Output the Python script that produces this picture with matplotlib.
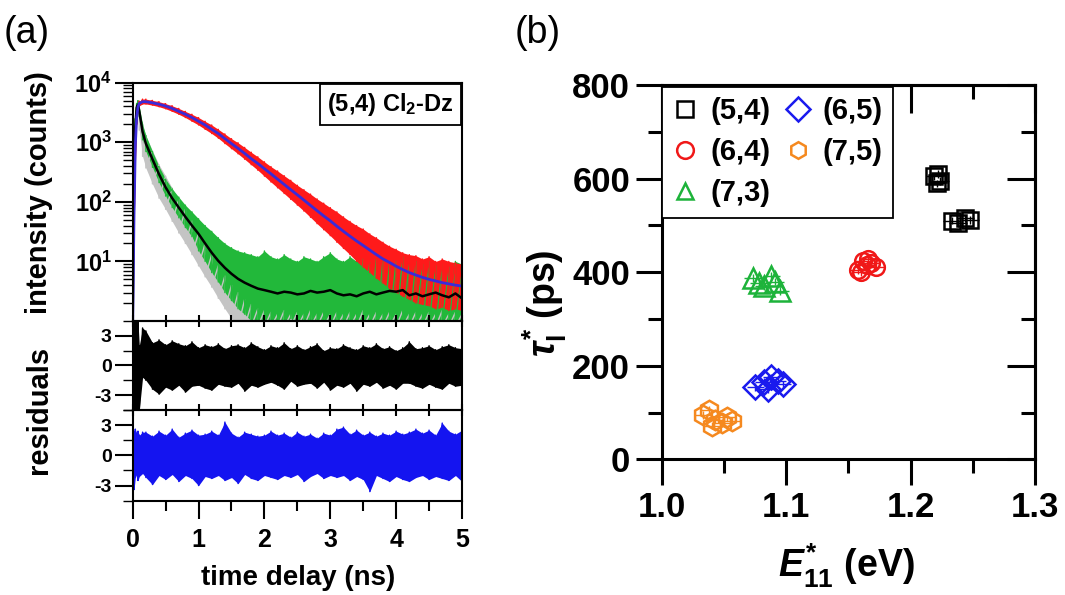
import numpy as np
import matplotlib.pyplot as plt
from matplotlib.ticker import MultipleLocator, FixedLocator, NullFormatter, FormatStrFormatter
from matplotlib.lines import Line2D

plt.rcParams['font.family'] = 'Liberation Sans'
plt.rcParams['font.weight'] = 'bold'
plt.rcParams['mathtext.fontset'] = 'custom'
plt.rcParams['mathtext.rm'] = 'Liberation Sans:bold'
plt.rcParams['mathtext.it'] = 'Liberation Sans:italic:bold'
plt.rcParams['mathtext.bf'] = 'Liberation Sans:bold'

# ---------------- (a) PL decay of (5,4) Cl2-Dz ----------------
# time channels (ns)
t_decay = [0.0, 0.02, 0.04, 0.06, 0.08, 0.10, 0.15] + list(np.round(np.arange(0.2, 5.01, 0.1), 2))

# defect emission (red data, blue fit)
fit_red = [1.0, 60, 900, 2600, 3900, 4500, 4800,
           4800, 4600, 4350, 4050, 3700, 3300, 2950, 2600, 2250, 1950,
           1650, 1400, 1150, 950, 790, 650, 530, 440, 360, 295,
           240, 196, 160, 131, 107, 87, 71, 58, 48, 39,
           32, 26.5, 22, 18.5, 15.5, 13, 11, 9.6, 8.3, 7.3,
           6.5, 5.9, 5.4, 5.0, 4.7, 4.4, 4.2, 4.0, 3.85]
red_hi = [1.5, 150, 1500, 3200, 4300, 4900, 5300,
          5300, 5050, 4800, 4450, 4100, 3700, 3300, 2950, 2600, 2250,
          1950, 1650, 1380, 1150, 980, 820, 680, 570, 470, 390,
          330, 275, 230, 190, 160, 135, 112, 95, 80, 68,
          56, 47, 40, 35, 29, 25, 21, 18, 16, 14,
          13, 12.5, 11, 12, 10, 11, 10, 9.5, 9]
red_lo = [1.0, 30, 500, 2000, 3500, 4100, 4400,
          4400, 4200, 3950, 3650, 3300, 2950, 2600, 2250, 1950, 1650,
          1400, 1170, 950, 780, 640, 520, 420, 340, 270, 215,
          172, 138, 110, 88, 70, 55, 43, 34, 27, 21,
          16.5, 13, 10, 8, 6.5, 5.2, 4.3, 3.5, 3.0, 2.6,
          2.3, 2.0, 1.9, 1.8, 1.6, 1.7, 1.5, 1.6, 1.5]

# E11 emission (green data, black fit)
fit_green = [1.0, 200, 1800, 3800, 4300, 3300, 1500,
             950, 520, 290, 175, 115, 80, 56, 40, 29, 20,
             14, 10.2, 7.8, 6.2, 5.1, 4.4, 3.9, 3.5, 3.3, 3.1,
             2.9, 3.1, 3.0, 2.8, 2.9, 3.2, 3.0, 3.1, 3.3, 2.9,
             2.7, 2.8, 2.6, 2.9, 3.1, 2.8, 3.0, 3.2, 3.1, 3.3,
             2.7, 2.9, 2.6, 2.8, 3.0, 2.7, 2.5, 2.9, 2.4]
green_hi = [2, 400, 2500, 4500, 5000, 4000, 2000,
            1300, 700, 390, 240, 165, 120, 88, 68, 52, 40,
            32, 25, 20, 17, 15, 14, 13, 12, 15, 12,
            11, 13, 11, 10, 12, 11, 10, 12, 14, 11,
            10, 12, 10, 11, 9.5, 11, 10, 9, 10, 12,
            9.5, 10, 9, 10, 8.5, 9, 8, 10, 9]
green_lo = [1, 80, 1200, 3100, 3700, 2700, 1100,
            700, 380, 210, 125, 80, 54, 37, 26, 15, 10,
            6.5, 4.5, 3.0, 2.2, 1.6, 1.3, 1.0, 0.8, 0.9, 0.8,
            0.9, 0.8, 1.1, 0.8, 0.9, 1.0, 0.8, 0.9, 0.8, 1.0,
            0.8, 0.9, 0.8, 1.0, 0.8, 0.9, 0.8, 1.0, 0.8, 0.9,
            0.8, 1.0, 0.8, 0.9, 0.8, 1.0, 0.8, 0.9, 0.8]

# instrument response (gray)
gray_hi = [1.5, 300, 2500, 4200, 4600, 3500, 1900,
           1300, 720, 420, 270, 170, 110, 75, 48, 30, 20,
           13, 8.5, 5.7, 4.0, 3.0, 2.3, 1.9, 1.6, 1.5, 1.4,
           1.3, 1.5, 1.3, 1.4, 1.3, 1.5, 1.3, 1.4, 1.3, 1.4,
           1.3, 1.4, 1.3, 1.5, 1.3, 1.4, 1.3, 1.4, 1.3, 1.5,
           1.3, 1.4, 1.3, 1.4, 1.3, 1.5, 1.3, 1.4, 1.3]
gray_lo = [1, 60, 700, 2500, 3300, 1600, 580,
           370, 200, 115, 75, 47, 30, 20, 13, 8.4, 5.5,
           3.7, 2.4, 1.6, 1.1, 0.8, 0.8, 0.8, 0.8, 0.8, 0.8,
           0.8, 0.8, 0.8, 0.8, 0.8, 0.8, 0.8, 0.8, 0.8, 0.8,
           0.8, 0.8, 0.8, 0.8, 0.8, 0.8, 0.8, 0.8, 0.8, 0.8,
           0.8, 0.8, 0.8, 0.8, 0.8, 0.8, 0.8, 0.8, 0.8]

# weighted residuals, upper / lower excursions per channel
res1_hi = [4.5, 4.5, 4.5, 4.5, 4.5, 2.0, 3.8,
           3.5, 2.3, 2.6, 2.1, 2.5, 2.2, 2.0, 2.4, 1.8, 2.1,
           1.9, 2.2, 1.7, 2.0, 2.1, 1.8, 2.3, 1.9, 1.6, 2.0,
           1.8, 2.3, 1.7, 2.0, 1.6, 1.9, 2.2, 1.5, 1.8, 1.7,
           2.1, 1.8, 1.6, 2.0, 1.8, 2.2, 1.7, 1.9, 1.5, 1.8,
           2.4, 1.7, 1.8, 2.0, 1.6, 1.9, 2.1, 1.8, 1.7]
res1_lo = [-4.5, -4.5, -4.5, -4.5, -4.5, -4.5, -1.2,
           -1.5, -2.4, -2.9, -2.2, -2.5, -2.0, -2.7, -2.1, -2.0, -2.3,
           -2.5, -1.9, -2.1, -2.2, -1.8, -2.6, -2.0, -2.2, -1.9, -1.7,
           -2.0, -2.4, -1.6, -2.1, -1.9, -1.8, -2.3, -1.7, -2.5, -2.0,
           -2.2, -1.8, -2.6, -1.9, -2.1, -1.7, -2.3, -2.0, -2.4, -1.8,
           -1.8, -2.1, -2.3, -1.9, -2.2, -2.4, -1.8, -2.1, -2.0]
res2_hi = [2.5, 2.3, 2.6, 2.2, 2.4, 2.0, 2.3,
           2.3, 1.9, 2.4, 2.0, 2.6, 1.8, 2.2, 2.5, 2.0, 2.1,
           2.4, 2.0, 3.3, 2.2, 1.8, 2.3, 2.1, 1.9, 2.0, 2.4,
           2.0, 2.2, 1.8, 2.3, 1.9, 2.1, 1.7, 2.2, 2.0, 2.6,
           2.8, 2.1, 2.5, 2.0, 2.3, 1.9, 2.2, 2.0, 2.4, 2.1,
           2.3, 2.6, 2.2, 2.5, 2.0, 3.2, 2.4, 2.1, 2.5]
res2_lo = [-2.0, -3.4, -2.2, -1.9, -2.5, -2.1, -1.8,
           -2.2, -2.9, -2.0, -2.4, -1.9, -2.6, -2.0, -2.3, -3.0, -2.1,
           -2.3, -2.0, -2.5, -2.2, -2.8, -1.9, -2.3, -2.5, -2.0, -2.2,
           -2.4, -2.0, -2.2, -1.9, -2.6, -2.1, -1.8, -2.3, -2.0, -2.2,
           -2.0, -2.5, -2.1, -2.4, -3.6, -2.0, -2.3, -2.6, -2.1, -2.4,
           -2.6, -2.2, -2.0, -2.4, -2.1, -2.3, -2.5, -2.0, -2.6]

# ---------------- (b) lifetime vs. defect energy ----------------
species = ['(5,4)', '(6,4)', '(7,3)', '(6,5)', '(7,5)']
E11 = {
    '(5,4)': [1.219, 1.222, 1.224, 1.221, 1.233, 1.238, 1.244, 1.248],
    '(6,4)': [1.158, 1.162, 1.165, 1.168, 1.172, 1.160, 1.166],
    '(7,3)': [1.073, 1.078, 1.088, 1.091, 1.095, 1.082],
    '(6,5)': [1.075, 1.082, 1.088, 1.093, 1.097, 1.085],
    '(7,5)': [1.033, 1.038, 1.043, 1.048, 1.052, 1.056, 1.040],
}
tau = {
    '(5,4)': [605, 610, 595, 590, 510, 505, 515, 512],
    '(6,4)': [405, 425, 415, 420, 412, 400, 428],
    '(7,3)': [388, 378, 392, 380, 360, 370],
    '(6,5)': [155, 165, 175, 168, 160, 150],
    '(7,5)': [95, 105, 85, 78, 90, 82, 72],
}
colors = {'(5,4)': 'black', '(6,4)': '#f01818', '(7,3)': '#1db33a',
          '(6,5)': '#1a1aee', '(7,5)': '#f5891f'}
markers = {'(5,4)': 's', '(6,4)': 'o', '(7,3)': '^', '(6,5)': 'D', '(7,5)': 'h'}
msizes = {'(5,4)': 12, '(6,4)': 12, '(7,3)': 14, '(6,5)': 12, '(7,5)': 14}


def zigzag(t, lo, hi):
    tt = np.repeat(np.asarray(t, float), 2)
    yy = np.column_stack([hi, lo]).ravel()
    return tt, yy


fig = plt.figure(figsize=(10.65, 5.95), dpi=100)

ax1 = fig.add_axes([0.1246, 0.4605, 0.3092, 0.4005])
ax2 = fig.add_axes([0.1246, 0.311, 0.3092, 0.1495])
ax3 = fig.add_axes([0.1246, 0.1585, 0.3092, 0.1525])

for lo, hi, c in [(gray_lo, gray_hi, '#c4c4c4'), (green_lo, green_hi, '#22b83a'),
                  (red_lo, red_hi, '#ff1a1a')]:
    ax1.fill_between(t_decay, lo, hi, color=c, lw=0)
    ax1.plot(*zigzag(t_decay, lo, hi), color=c, lw=1.0)
ax1.plot(t_decay, fit_green, color='black', lw=1.8)
ax1.plot(t_decay, fit_red, color='#3a2bd8', lw=2.0)

ax1.set_yscale('log')
ax1.set_ylim(1, 1e4)
ax1.yaxis.set_major_locator(FixedLocator([1e1, 1e2, 1e3, 1e4]))
ax1.set_yticklabels([r'$10^{1}$', r'$10^{2}$', r'$10^{3}$', r'$10^{4}$'])
ax1.yaxis.set_minor_locator(FixedLocator([m * 10 ** d for d in range(0, 4) for m in range(2, 10)]))
ax1.yaxis.set_minor_formatter(NullFormatter())

ax1.text(0.976, 0.966, '(5,4) Cl$_2$-Dz', transform=ax1.transAxes, ha='right', va='top',
         fontsize=17, zorder=6,
         bbox=dict(boxstyle='square,pad=0.3', fc='white', ec='black', lw=1.3))

for ax, lo, hi, c in [(ax2, res1_lo, res1_hi, 'black'), (ax3, res2_lo, res2_hi, '#1414f0')]:
    ax.fill_between(t_decay, lo, hi, color=c, lw=0)
    ax.plot(*zigzag(t_decay, lo, hi), color=c, lw=1.0)
    ax.set_ylim(-4.5, 4.5)
    ax.yaxis.set_major_locator(FixedLocator([-3, 0, 3]))
    ax.yaxis.set_minor_locator(MultipleLocator(1.5))
    ax.set_yticklabels(['-3', '0', '3'])

for ax in (ax1, ax2, ax3):
    ax.set_xlim(0, 5)
    ax.patch.set_visible(False)
    ax.xaxis.set_major_locator(MultipleLocator(1))
    ax.xaxis.set_minor_locator(MultipleLocator(0.5))
    for s in ax.spines.values():
        s.set_linewidth(1.5)
    ax.tick_params(axis='y', which='major', direction='out', length=13, width=1.5,
                   labelsize=14 if ax is not ax1 else 17, pad=2)
    ax.tick_params(axis='y', which='minor', direction='out', length=7, width=1.0)

ax1.tick_params(axis='x', which='both', bottom=False, labelbottom=False)
ax2.tick_params(axis='x', which='both', direction='inout', top=True, bottom=True,
                length=9, width=1.5, labelbottom=False)
ax3.tick_params(axis='x', which='major', direction='out', length=13, width=1.5,
                labelsize=18, pad=7)
ax3.tick_params(axis='x', which='minor', direction='out', length=7, width=1.5)

fig.text(0.037, 0.676, 'intensity (counts)', rotation=90, ha='center', va='center', fontsize=21)
fig.text(0.037, 0.311, 'residuals', rotation=90, ha='center', va='center', fontsize=21)
fig.text(0.28, 0.029, 'time delay (ns)', ha='center', va='center', fontsize=20)

# ---------------- panel (b) ----------------
axb = fig.add_axes([0.6216, 0.228, 0.3502, 0.629])
for sp in species:
    axb.errorbar(E11[sp], tau[sp], xerr=0.007, yerr=8, fmt='none',
                 ecolor=colors[sp], elinewidth=1.0, capsize=0)
    axb.plot(E11[sp], tau[sp], linestyle='none', marker=markers[sp], ms=msizes[sp],
             mfc='none', mec=colors[sp], mew=1.8)

axb.set_xlim(1.0, 1.3)
axb.set_ylim(0, 800)
axb.xaxis.set_major_locator(MultipleLocator(0.1))
axb.xaxis.set_minor_locator(MultipleLocator(0.05))
axb.xaxis.set_major_formatter(FormatStrFormatter('%.1f'))
axb.yaxis.set_major_locator(MultipleLocator(200))
axb.yaxis.set_minor_locator(MultipleLocator(100))
for s in axb.spines.values():
    s.set_linewidth(2.2)
axb.tick_params(which='major', direction='out', length=19, width=2.2, labelsize=25, pad=4)
axb.tick_params(which='minor', direction='out', length=10, width=2.2)

secy = axb.secondary_yaxis('right')
secy.yaxis.set_major_locator(MultipleLocator(200))
secy.yaxis.set_minor_locator(MultipleLocator(100))
secy.tick_params(which='major', direction='in', length=20, width=2.2, labelright=False)
secy.tick_params(which='minor', direction='in', length=10, width=2.2)
secy.spines['right'].set_linewidth(2.2)
secx = axb.secondary_xaxis('top')
secx.xaxis.set_major_locator(MultipleLocator(0.1))
secx.xaxis.set_minor_locator(MultipleLocator(0.05))
secx.tick_params(which='major', direction='in', length=20, width=2.2, labeltop=False)
secx.tick_params(which='minor', direction='in', length=10, width=2.2)
secx.spines['top'].set_linewidth(2.2)

handles = [Line2D([], [], linestyle='none', marker=markers[sp], ms=12, mfc='none',
                  mec=colors[sp], mew=1.8) for sp in species]
leg = axb.legend(handles, species, loc='upper left', bbox_to_anchor=(0.0, 0.995),
                 borderaxespad=0, ncol=2, fancybox=False, edgecolor='black', framealpha=1,
                 fontsize=21, handlelength=0.9, handletextpad=0.4, columnspacing=0.5,
                 labelspacing=0.45, borderpad=0.35)
leg.get_frame().set_linewidth(1.3)
leg.set_zorder(5)

fig.text(0.512, 0.49, r'$\tau^{*}_{\mathrm{l}}$ (ps)', rotation=90, ha='center',
         va='center', fontsize=27)
fig.text(0.795, 0.048, r'$E^{*}_{11}$ (eV)', ha='center', va='center', fontsize=27)

fig.text(0.003, 0.944, '(a)', fontsize=27, fontweight='normal', va='center')
fig.text(0.483, 0.944, '(b)', fontsize=27, fontweight='normal', va='center')

fig.savefig('out.png', dpi=100)
